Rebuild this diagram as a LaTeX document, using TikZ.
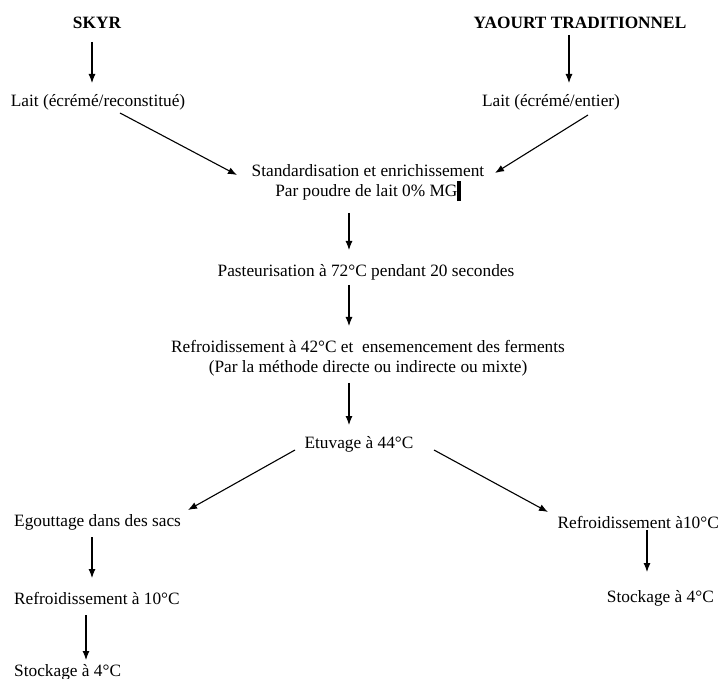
\documentclass[tikz,border=0pt]{standalone}
\usepackage{fontspec}
\setmainfont{Liberation Serif}
\usetikzlibrary{calc,arrows.meta}
\begin{document}
\begin{tikzpicture}[x=1pt,y=-1pt,
  lbl/.style={inner sep=0pt,font=\fontsize{17.3}{20}\selectfont,align=center},
  ttl/.style={lbl,font=\fontsize{17.3}{20}\selectfont\bfseries},
  arr/.style={line width=1.1pt,-{Latex[length=9pt,width=7pt]}}]
\useasboundingbox (0,0) rectangle (721,679);
\node[ttl] (skyr) at (97,23) {SKYR};
\node[ttl] (yaourt) at (580,23) {YAOURT TRADITIONNEL};
\node[lbl] (lait1) at (98,102) {Lait (écrémé/reconstitué)};
\node[lbl] (lait2) at (551,102) {Lait (écrémé/entier)};
\node[lbl] (std) at (368,183) {Standardisation et enrichissement\\Par poudre de lait 0\% MG\rule[-0.25em]{3.2pt}{1.15em}};
\node[lbl] (past) at (366,272) {Pasteurisation à 72°C pendant 20 secondes};
\node[lbl] (refr) at (368,358) {Refroidissement à 42°C et \ ensemencement des ferments\\(Par la méthode directe ou indirecte ou mixte)};
\node[lbl] (etuv) at (359,444) {Etuvage à 44°C};
\node[lbl,anchor=west] (egout) at (14,522) {Egouttage dans des sacs};
\node[lbl,anchor=west] (refrL) at (14,598) {Refroidissement à 10°C};
\node[lbl,anchor=west] (stockL) at (14,672) {Stockage à 4°C};
\node[lbl,anchor=east] (refrR) at (719,522) {Refroidissement à10°C};
\node[lbl,anchor=east] (stockR) at (714,598) {Stockage à 4°C};

\draw[arr] ($(skyr.center)+(-5,19)$) -- ($(lait1.center)+(-6,-19)$);
\draw[arr] ($(yaourt.center)+(-11,12)$) -- ($(lait2.center)+(18,-19)$);
\draw[arr] ($(lait1.center)+(22,11)$) -- ($(std.center)+(-131,-8)$);
\draw[arr] ($(lait2.center)+(37,13)$) -- ($(std.center)+(127,-10)$);
\draw[arr] ($(std.center)+(-19,30)$) -- ($(past.center)+(-17,-22)$);
\draw[arr] ($(past.center)+(-17,13)$) -- ($(refr.center)+(-19,-32)$);
\draw[arr] ($(refr.center)+(-19,25)$) -- ($(etuv.center)+(-10,-19)$);
\draw[arr] ($(etuv.center)+(-64,6)$) -- ($(egout.west)+(174,-12)$);
\draw[arr] ($(etuv.center)+(75,6)$) -- ($(refrR.east)+(-171,-10)$);
\draw[arr] ($(egout.west)+(78,15)$) -- ($(refrL.west)+(78,-20)$);
\draw[arr] ($(refrL.west)+(72,17)$) -- ($(stockL.west)+(72,-12)$);
\draw[arr] ($(refrR.east)+(-72,8)$) -- ($(stockR.east)+(-67,-26)$);
\end{tikzpicture}
\end{document}
